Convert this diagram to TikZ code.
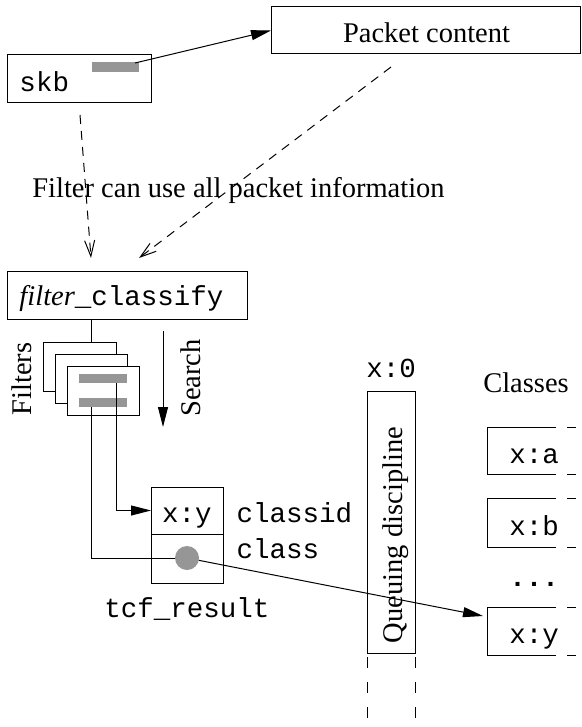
\documentclass[tikz,border=0pt]{standalone}
\usepackage{fontspec}
\setmainfont{Liberation Serif}
\setmonofont{Liberation Mono}
\usetikzlibrary{arrows.meta}
\definecolor{bargray}{RGB}{150,150,150}
\tikzset{
  bx/.style={draw, line width=1pt, inner sep=0pt, outer sep=0pt, fill=white},
  ser/.style={font=\fontsize{28.5}{30}\selectfont, inner sep=0pt},
  mon/.style={font=\fontsize{27.5}{30}\selectfont\ttfamily, inner sep=0pt},
  graybar/.style={fill=bargray, inner sep=0pt, outer sep=0pt},
  solidarrow/.style={-{Triangle[length=20pt,width=10pt]}},
  dasharrow/.style={dash pattern=on 9pt off 7pt, -{Straight Barb[length=16pt,width=10pt]}},
  cutdash/.style={dash pattern=on 11pt off 14pt, dash phase=21pt},
}
\begin{document}
\begin{tikzpicture}[x=1pt,y=-1pt,line width=1pt]
\useasboundingbox (0,0) rectangle (581,727);
% skb and packet content
\node[bx, minimum width=144pt, minimum height=48pt] (skb) at (79,79) {};
\node[mon, anchor=base west] (skbtext) at (19,92) {skb};
\node[graybar, minimum width=47pt, minimum height=10pt] (skbbar) at (115.5,67) {};
\node[bx, minimum width=309pt, minimum height=47pt] (pkt) at (425.5,30.5) {};
\node[ser, anchor=base] (pkttext) at (426.5,43) {Packet content};
\coordinate (skbout) at (135,63);
\draw[solidarrow] (skbout) -- (pkt.west);
% dashed arrows
\coordinate (d1s) at (80,115);
\coordinate (d1e) at (91,258);
\coordinate (d2s) at (391,67);
\coordinate (d2e) at (139,258);
\draw[dasharrow] (d1s) -- (d1e);
\draw[dasharrow] (d2s) -- (d2e);
\node[ser, anchor=base] (info) at (238.5,198) {Filter can use all packet information};
% filter classify
\node[bx, minimum width=240pt, minimum height=48pt] (fc) at (127,295) {};
\node[anchor=base west, inner sep=0pt] (fctext) at (19,305)
  {\fontsize{28.5}{30}\selectfont\itshape filter\upshape\fontsize{27.5}{30}\selectfont\ttfamily\_classify};
% filters
\node[bx, minimum width=73pt, minimum height=49pt] (card1) at (79.5,366.5) {};
\draw (fc.south -| 91,0) -- (card1.north -| 91,0);
\node[bx, minimum width=72pt, minimum height=49pt] (card2) at (91,378.5) {};
\node[bx, minimum width=72pt, minimum height=49pt] (card3) at (103,390.5) {};
\node[graybar, minimum width=48pt, minimum height=9pt] (bar1) at (103,378.5) {};
\node[graybar, minimum width=48pt, minimum height=9pt] (bar2) at (103,402.5) {};
\node[ser, rotate=90] (filterslbl) at (22,379) {Filters};
\coordinate (s1) at (163,331);
\coordinate (s2) at (163,427);
\draw[solidarrow] (s1) -- (s2);
\node[ser, rotate=90] (searchlbl) at (191,378) {Search};
% tcf_result
\node[bx, minimum width=72pt, minimum height=47pt] (tcfa) at (187,510.5) {};
\node[bx, minimum width=72pt, minimum height=49pt] (tcfb) at (187,558.5) {};
\node[mon, anchor=base] (xy) at (187,522) {x:y};
\node[mon, anchor=base west] (classid) at (236,522) {classid};
\node[mon, anchor=base west] (classlbl) at (236,558) {class};
\node[mon, anchor=base] (tcflbl) at (187,617) {tcf\_result};
\node[circle, fill=bargray, minimum size=24pt, inner sep=0pt, outer sep=0pt] (dot) at (187,558) {};
\coordinate (l1) at (116,383);
\coordinate (l2) at (91,407);
\draw[solidarrow] (l1) |- (tcfa.west);
\draw (l2) |- (dot);
% queuing discipline
\node[draw, inner sep=0pt, outer sep=0pt, minimum width=48pt, minimum height=262pt] (q) at (391,522) {};
\coordinate (bottom) at (0,727);
\draw[cutdash] (q.south west) -- (q.south west |- bottom);
\draw[cutdash] (q.south east) -- (q.south east |- bottom);
\node[mon, anchor=base] (x0) at (391,377) {x:0};
\node[ser, rotate=90] (qlbl) at (396,535) {Queuing discipline};
% classes
\node[ser, anchor=base] (classes) at (526,392) {Classes};
\foreach \t/\b in {427/474, 498/547, 607/655} {
  \draw (556,\t) -- (487,\t) -- (487,\b) -- (556,\b);
  \draw (567,\t) -- (576,\t);
  \draw (567,\b) -- (576,\b);
}
\node[mon, anchor=base] (xa) at (534,463) {x:a};
\node[mon, anchor=base] (xb) at (534,535) {x:b};
\node[mon, anchor=base] (dots) at (534,586) {\bfseries...};
\node[mon, anchor=base] (xyc) at (534,643) {x:y};
\coordinate (cxy) at (483,616);
\draw[solidarrow] (dot) -- (cxy);
\end{tikzpicture}
\end{document}
